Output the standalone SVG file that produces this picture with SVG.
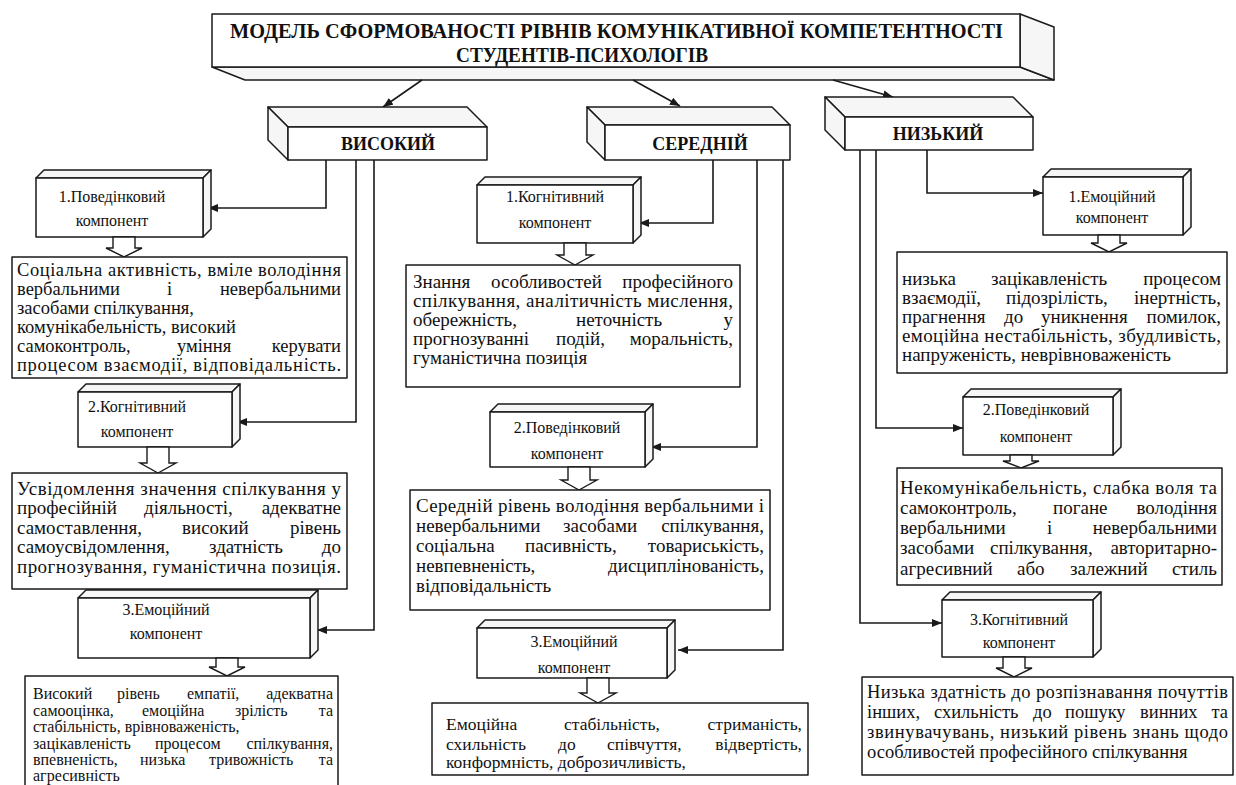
<svg xmlns="http://www.w3.org/2000/svg" width="1236" height="785" viewBox="0 0 1236 785">
<defs>
<style>
.box{fill:#fff;stroke:#1a1a1a;stroke-width:1.5;stroke-linejoin:round}
.face{fill:#f6f6f6;stroke:#1a1a1a;stroke-width:1.5;stroke-linejoin:round}
.blk{fill:#fff;stroke:#1a1a1a;stroke-width:1.4;stroke-linejoin:miter}
.conn{fill:none;stroke:#1a1a1a;stroke-width:1.6}
.f{font-family:"Liberation Serif","Times New Roman",serif;fill:#111}
.ti{font-size:20px;font-weight:bold}
.lv{font-size:18px;font-weight:bold;text-anchor:middle}
.cp{font-size:16px;text-anchor:middle}
.tx{font-size:19px}
.t185{font-size:18.5px}
.s15{font-size:16px}
.s17{font-size:17.5px}
.s18{font-size:18.5px}
</style>
<marker id="ah" viewBox="0 0 10 8" refX="10" refY="4" markerWidth="10" markerHeight="8" markerUnits="userSpaceOnUse" orient="auto">
<path d="M0,0 L10,4 L0,8 z" fill="#1a1a1a"/>
</marker>
</defs>
<rect x="0" y="0" width="1236" height="785" fill="#fff"/>

<g id="title">
<polygon class="face" points="212,67 1020,67 1054,80 245,80"/>
<polygon class="face" points="1020,14 1054,27 1054,80 1020,67"/>
<rect class="box" x="212" y="14" width="808" height="53"/>
<text class="f ti" x="230" y="38" textLength="773" lengthAdjust="spacingAndGlyphs">МОДЕЛЬ СФОРМОВАНОСТІ РІВНІВ КОМУНІКАТИВНОЇ КОМПЕТЕНТНОСТІ</text>
<text class="f ti" x="456" y="62" textLength="252" lengthAdjust="spacingAndGlyphs">СТУДЕНТІВ-ПСИХОЛОГІВ</text>
</g>

<g id="connectors" class="conn">
<path d="M422,80 L383,107" marker-end="url(#ah)"/>
<path d="M633,80 L680,106" marker-end="url(#ah)"/>
<path d="M833,80 L893,97" marker-end="url(#ah)"/>
<path d="M326,160 V208 H208" marker-end="url(#ah)"/>
<path d="M356,160 V422 H237" marker-end="url(#ah)"/>
<path d="M374,160 V630 H317" marker-end="url(#ah)"/>
<path d="M713,160 V223 H639" marker-end="url(#ah)"/>
<path d="M757,160 V447 H651" marker-end="url(#ah)"/>
<path d="M783,160 V650 H678" marker-end="url(#ah)"/>
<path d="M927,150 V193 H1043" marker-end="url(#ah)"/>
<path d="M876,150 V428 H963" marker-end="url(#ah)"/>
<path d="M860,150 V623 H942" marker-end="url(#ah)"/>
</g>

<g id="level-high">
<polygon class="face" points="268,107 467,107 487,127 288,127"/>
<polygon class="face" points="268,107 288,127 288,160 268,140"/>
<rect class="box" x="288" y="127" width="199" height="33"/>
<text class="f lv" x="388" y="150">ВИСОКИЙ</text>
</g>
<g id="level-mid">
<polygon class="face" points="587,107 772,107 790,125 605,125"/>
<polygon class="face" points="587,107 605,125 605,160 587,142"/>
<rect class="box" x="605" y="125" width="185" height="35"/>
<text class="f lv" x="700" y="150">СЕРЕДНІЙ</text>
</g>
<g id="level-low">
<polygon class="face" points="825,97 1013,97 1033,117 845,117"/>
<polygon class="face" points="825,97 845,117 845,150 825,130"/>
<rect class="box" x="845" y="117" width="188" height="33"/>
<text class="f lv" x="938" y="140">НИЗЬКИЙ</text>
</g>

<!-- HIGH column -->
<g id="high-c1">
<polygon class="face" points="36,178 44,170 211,170 203,178"/>
<polygon class="face" points="203,178 211,170 211,229 203,237"/>
<rect class="box" x="36" y="178" width="167" height="59"/>
<text class="f cp" x="112" y="202">1.Поведінковий</text>
<text class="f cp" x="112" y="226">компонент</text>
</g>
<g id="high-a1"><polygon class="blk" points="113,237 113,248 106,248 124,257 142,248 135,248 135,237"/></g>
<g id="high-t1">
<rect class="box" x="12" y="257" width="335" height="121"/>
<text class="f t185" x="17" y="276" textLength="324" lengthAdjust="spacing">Соціальна активність, вміле володіння</text>
<text class="f t185" y="295"><tspan x="17">вербальними</tspan><tspan x="167">і</tspan><tspan x="341" text-anchor="end">невербальними</tspan></text>
<text class="f t185" x="17" y="314">засобами спілкування,</text>
<text class="f t185" x="17" y="333">комунікабельність, високий</text>
<text class="f t185" y="352"><tspan x="17">самоконтроль,</tspan><tspan x="177">уміння</tspan><tspan x="341" text-anchor="end">керувати</tspan></text>
<text class="f t185" x="17" y="371" textLength="324" lengthAdjust="spacing">процесом взаємодії, відповідальність.</text>
</g>
<g id="high-c2">
<polygon class="face" points="78,392 86,384 240,384 232,392"/>
<polygon class="face" points="232,392 240,384 240,439 232,447"/>
<rect class="box" x="78" y="392" width="154" height="55"/>
<text class="f cp" x="137" y="412">2.Когнітивний</text>
<text class="f cp" x="137" y="437">компонент</text>
</g>
<g id="high-a2"><polygon class="blk" points="147,447 147,463 140,463 158,473 176,463 169,463 169,447"/></g>
<g id="high-t2">
<rect class="box" x="12" y="473" width="335" height="116"/>
<text class="f tx" x="17" y="495" textLength="324" lengthAdjust="spacing">Усвідомлення значення спілкування у</text>
<text class="f tx" y="514"><tspan x="17">професійній</tspan><tspan x="144">діяльності,</tspan><tspan x="341" text-anchor="end">адекватне</tspan></text>
<text class="f tx" y="534"><tspan x="17">самоставлення,</tspan><tspan x="182">високий</tspan><tspan x="341" text-anchor="end">рівень</tspan></text>
<text class="f tx" y="553"><tspan x="17">самоусвідомлення,</tspan><tspan x="209">здатність</tspan><tspan x="341" text-anchor="end">до</tspan></text>
<text class="f tx" x="17" y="573" textLength="324" lengthAdjust="spacing">прогнозування, гуманістична позиція.</text>
</g>
<g id="high-c3">
<polygon class="face" points="78,598 86,590 318,590 310,598"/>
<polygon class="face" points="310,598 318,590 318,650 310,658"/>
<rect class="box" x="78" y="598" width="232" height="60"/>
<text class="f cp" x="166" y="615">3.Емоційний</text>
<text class="f cp" x="166" y="639">компонент</text>
</g>
<g id="high-a3"><polygon class="blk" points="216,658 216,667 209,667 227,676 245,667 238,667 238,658"/></g>
<g id="high-t3">
<rect class="box" x="25" y="676" width="313" height="114"/>
<text class="f s15" y="699"><tspan x="33">Високий</tspan><tspan x="117">рівень</tspan><tspan x="187">емпатії,</tspan><tspan x="333" text-anchor="end">адекватна</tspan></text>
<text class="f s15" y="716"><tspan x="33">самооцінка,</tspan><tspan x="142">емоційна</tspan><tspan x="235">зрілість</tspan><tspan x="333" text-anchor="end">та</tspan></text>
<text class="f s15" x="33" y="732">стабільність, врівноваженість,</text>
<text class="f s15" y="749"><tspan x="33">зацікавленість</tspan><tspan x="155">процесом</tspan><tspan x="333" text-anchor="end">спілкування,</tspan></text>
<text class="f s15" y="765"><tspan x="33">впевненість,</tspan><tspan x="140">низька</tspan><tspan x="209">тривожність</tspan><tspan x="333" text-anchor="end">та</tspan></text>
<text class="f s15" x="33" y="781">агресивність</text>
</g>

<!-- MIDDLE column -->
<g id="mid-c1">
<polygon class="face" points="477,185 485,177 641,177 633,185"/>
<polygon class="face" points="633,185 641,177 641,235 633,243"/>
<rect class="box" x="477" y="185" width="156" height="58"/>
<text class="f cp" x="555" y="202">1.Когнітивний</text>
<text class="f cp" x="555" y="228">компонент</text>
</g>
<g id="mid-a1"><polygon class="blk" points="564,243 564,255 557,255 575,265 593,255 586,255 586,243"/></g>
<g id="mid-t1">
<rect class="box" x="406" y="265" width="334" height="122"/>
<text class="f tx" y="288"><tspan x="413">Знання</tspan><tspan x="491">особливостей</tspan><tspan x="733" text-anchor="end">професійного</tspan></text>
<text class="f tx" x="413" y="307" textLength="320" lengthAdjust="spacing">спілкування, аналітичність мислення,</text>
<text class="f tx" y="326"><tspan x="413">обережність,</tspan><tspan x="576">неточність</tspan><tspan x="733" text-anchor="end">у</tspan></text>
<text class="f tx" y="345"><tspan x="413">прогнозуванні</tspan><tspan x="556">подій,</tspan><tspan x="733" text-anchor="end">моральність,</tspan></text>
<text class="f tx" x="413" y="364">гуманістична позиція</text>
</g>
<g id="mid-c2">
<polygon class="face" points="490,412 498,404 653,404 645,412"/>
<polygon class="face" points="645,412 653,404 653,459 645,467"/>
<rect class="box" x="490" y="412" width="155" height="55"/>
<text class="f cp" x="567" y="433">2.Поведінковий</text>
<text class="f cp" x="567" y="459">компонент</text>
</g>
<g id="mid-a2"><polygon class="blk" points="568,467 568,480 561,480 579,490 597,480 590,480 590,467"/></g>
<g id="mid-t2">
<rect class="box" x="410" y="490" width="360" height="120"/>
<text class="f tx" x="416" y="512" textLength="348" lengthAdjust="spacing">Середній рівень володіння вербальними і</text>
<text class="f tx" y="532"><tspan x="416">невербальними</tspan><tspan x="563">засобами</tspan><tspan x="764" text-anchor="end">спілкування,</tspan></text>
<text class="f tx" y="552"><tspan x="416">соціальна</tspan><tspan x="525">пасивність,</tspan><tspan x="764" text-anchor="end">товариськість,</tspan></text>
<text class="f tx" y="572"><tspan x="416">невпевненість,</tspan><tspan x="764" text-anchor="end">дисциплінованість,</tspan></text>
<text class="f tx" x="416" y="592">відповідальність</text>
</g>
<g id="mid-c3">
<polygon class="face" points="477,628 485,620 675,620 667,628"/>
<polygon class="face" points="667,628 675,620 675,670 667,678"/>
<rect class="box" x="477" y="628" width="190" height="50"/>
<text class="f cp" x="574" y="647">3.Емоційний</text>
<text class="f cp" x="574" y="673">компонент</text>
</g>
<g id="mid-a3"><polygon class="blk" points="587,678 587,693 580,693 598,703 616,693 609,693 609,678"/></g>
<g id="mid-t3">
<rect class="box" x="432" y="703" width="376" height="72"/>
<text class="f s17" y="730"><tspan x="446">Емоційна</tspan><tspan x="564">стабільність,</tspan><tspan x="802" text-anchor="end">стриманість,</tspan></text>
<text class="f s17" y="750"><tspan x="446">схильність</tspan><tspan x="558">до</tspan><tspan x="607">співчуття,</tspan><tspan x="802" text-anchor="end">відвертість,</tspan></text>
<text class="f s17" x="446" y="768">конформність, доброзичливість,</text>
</g>

<!-- LOW column -->
<g id="low-c1">
<polygon class="face" points="1043,177 1051,169 1191,169 1183,177"/>
<polygon class="face" points="1183,177 1191,169 1191,227 1183,235"/>
<rect class="box" x="1043" y="177" width="140" height="58"/>
<text class="f cp" x="1112" y="202">1.Емоційний</text>
<text class="f cp" x="1112" y="223">компонент</text>
</g>
<g id="low-a1"><polygon class="blk" points="1098,235 1098,243 1091,243 1109,252 1127,243 1120,243 1120,235"/></g>
<g id="low-t1">
<rect class="box" x="897" y="252" width="330" height="121"/>
<text class="f tx" y="285"><tspan x="902">низька</tspan><tspan x="991">зацікавленість</tspan><tspan x="1221" text-anchor="end">процесом</tspan></text>
<text class="f tx" y="304"><tspan x="902">взаємодії,</tspan><tspan x="1006">підозрілість,</tspan><tspan x="1221" text-anchor="end">інертність,</tspan></text>
<text class="f tx" y="323"><tspan x="902">прагнення</tspan><tspan x="1004">до</tspan><tspan x="1041">уникнення</tspan><tspan x="1221" text-anchor="end">помилок,</tspan></text>
<text class="f tx" x="902" y="342" textLength="319" lengthAdjust="spacing">емоційна нестабільність, збудливість,</text>
<text class="f tx" x="902" y="361">напруженість, неврівноваженість</text>
</g>
<g id="low-c2">
<polygon class="face" points="963,397 971,389 1121,389 1113,397"/>
<polygon class="face" points="1113,397 1121,389 1121,447 1113,455"/>
<rect class="box" x="963" y="397" width="150" height="58"/>
<text class="f cp" x="1036" y="415">2.Поведінковий</text>
<text class="f cp" x="1036" y="442">компонент</text>
</g>
<g id="low-a2"><polygon class="blk" points="1010,455 1010,461 1003,461 1021,468 1039,461 1032,461 1032,455"/></g>
<g id="low-t2">
<rect class="box" x="897" y="468" width="325" height="117"/>
<text class="f tx" x="900" y="494" textLength="317" lengthAdjust="spacing">Некомунікабельність, слабка воля та</text>
<text class="f tx" y="514"><tspan x="900">самоконтроль,</tspan><tspan x="1053">погане</tspan><tspan x="1217" text-anchor="end">володіння</tspan></text>
<text class="f tx" y="534"><tspan x="900">вербальними</tspan><tspan x="1047">і</tspan><tspan x="1217" text-anchor="end">невербальними</tspan></text>
<text class="f tx" y="554"><tspan x="900">засобами</tspan><tspan x="990">спілкування,</tspan><tspan x="1217" text-anchor="end">авторитарно-</tspan></text>
<text class="f tx" y="575"><tspan x="900">агресивний</tspan><tspan x="1017">або</tspan><tspan x="1070">залежний</tspan><tspan x="1217" text-anchor="end">стиль</tspan></text>
</g>
<g id="low-c3">
<polygon class="face" points="942,600 950,592 1101,592 1093,600"/>
<polygon class="face" points="1093,600 1101,592 1101,649 1093,657"/>
<rect class="box" x="942" y="600" width="151" height="57"/>
<text class="f cp" x="1019" y="625">3.Когнітивний</text>
<text class="f cp" x="1019" y="648">компонент</text>
</g>
<g id="low-a3"><polygon class="blk" points="1003,657 1003,668 996,668 1014,677 1032,668 1025,668 1025,657"/></g>
<g id="low-t3">
<rect class="box" x="862" y="677" width="371" height="98"/>
<text class="f s18" x="867" y="698" textLength="361" lengthAdjust="spacing">Низька здатність до розпізнавання почуттів</text>
<text class="f s18" y="718"><tspan x="867">інших,</tspan><tspan x="934">схильність</tspan><tspan x="1033">до</tspan><tspan x="1065">пошуку</tspan><tspan x="1140">винних</tspan><tspan x="1228" text-anchor="end">та</tspan></text>
<text class="f s18" x="867" y="738" textLength="361" lengthAdjust="spacing">звинувачувань, низький рівень знань щодо</text>
<text class="f s18" x="867" y="758">особливостей професійного спілкування</text>
</g>
</svg>
